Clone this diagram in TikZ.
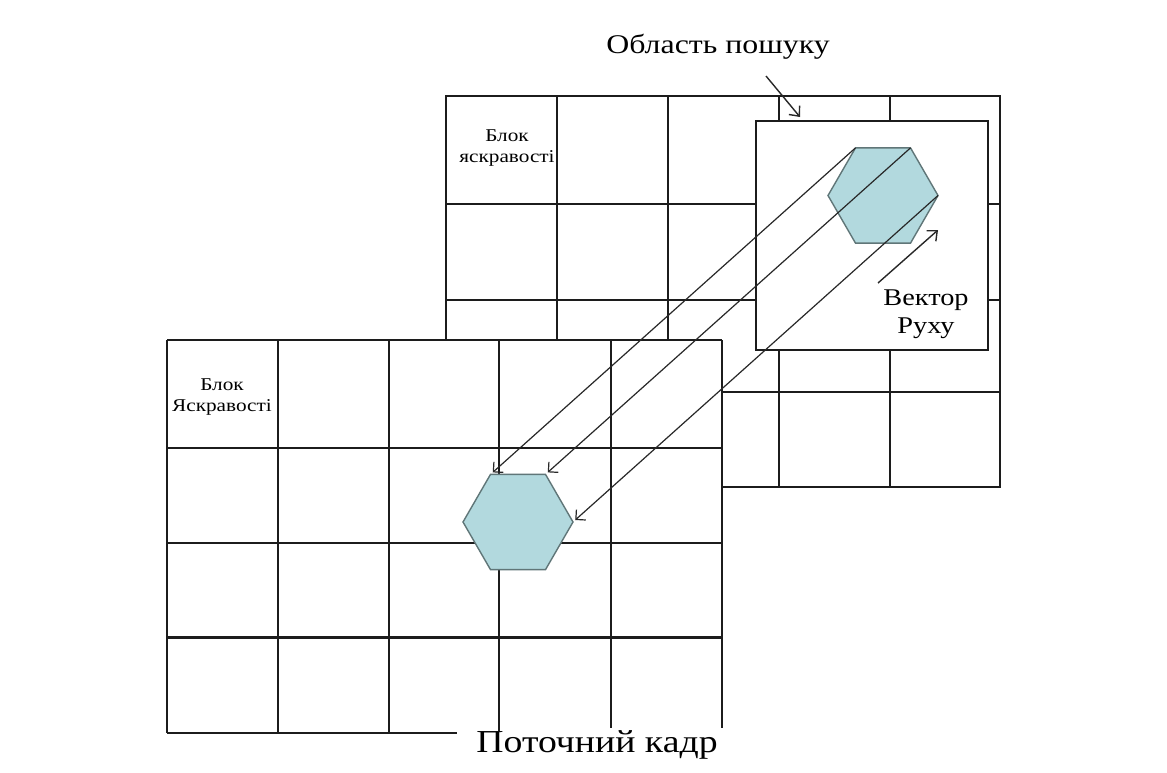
\documentclass[tikz,border=0pt]{standalone}
\usepackage{fontspec}
\setmainfont{Liberation Serif}[FakeStretch=1.18]
\usetikzlibrary{shapes.geometric,arrows.meta}

\definecolor{hexfill}{RGB}{178,217,222}
\definecolor{hexline}{RGB}{96,118,120}
\definecolor{gridline}{RGB}{28,28,28}
\definecolor{arrowline}{RGB}{40,40,40}

\tikzset{
  gridpen/.style={draw=gridline, line width=1.8pt},
  boldpen/.style={draw=gridline, line width=3pt},
  hexa/.style={regular polygon, regular polygon sides=6, minimum size=110pt,
    inner sep=0pt, outer sep=0pt, fill=hexfill, draw=hexline, line width=1.4pt},
  window/.style={draw=gridline, line width=1.8pt, fill=white, inner sep=0pt,
    outer sep=0pt, anchor=north west},
  motion/.style={draw=arrowline, line width=1.2pt,
    -{Straight Barb[length=7pt,width=14pt,line width=1.2pt]}, shorten >=3pt},
  pointer/.style={draw=arrowline, line width=1.4pt,
    -{Straight Barb[length=8pt,width=14pt,line width=1.4pt]}},
  smalllabel/.style={align=center, inner sep=0pt, font=\fontsize{18}{21}\selectfont},
}

\begin{document}
\begin{tikzpicture}[x=1pt, y=-1pt]
\useasboundingbox (0,0) rectangle (1167,772);

% reference frame grid (behind)
\draw[gridpen] (446,96) rectangle (1000,487);
\foreach \gx in {557,668,779,890} \draw[gridpen] (\gx,96) -- (\gx,487);
\foreach \gy in {204,300,392} \draw[gridpen] (446,\gy) -- (1000,\gy);
\node[smalllabel, anchor=base] (bl1) at (507,162) {Блок\\яскравості};

% search window
\node[window, minimum width=232pt, minimum height=229pt] (sw) at (756,121) {};

% current frame grid (in front)
\fill[white] (167,340) rectangle (722,733);
\draw[gridpen] (167,340) -- (722,340);
\draw[gridpen] (167,448) -- (722,448);
\draw[gridpen] (167,543) -- (722,543);
\draw[boldpen] (167,637) -- (722,637);
\draw[gridpen] (167,733) -- (457,733);
\draw[gridpen] (167,340) -- (167,733);
\draw[gridpen] (278,340) -- (278,733);
\draw[gridpen] (389,340) -- (389,733);
\draw[gridpen] (499,340) -- (499,731);
\draw[gridpen] (611,340) -- (611,728);
\draw[gridpen] (722,340) -- (722,728);
\node[smalllabel, anchor=base] (bl2) at (222,411) {Блок\\Яскравості};

% matched blocks (corner 1 = upper right, 2 = upper left, 6 = right)
\node[hexa] (hb) at (883,195.5) {};
\node[hexa] (hf) at (518,522) {};

% displacement of the block
\draw[motion] (hb.corner 2) -- (hf.corner 2);
\draw[motion] (hb.corner 1) -- (hf.corner 1);
\draw[motion] (hb.corner 6) -- (hf.corner 6);

% motion vector
\coordinate (mvs) at (878,283);
\coordinate (mve) at (938,230);
\draw[pointer] (mvs) -- (mve);
\node[align=center, inner sep=0pt, font=\fontsize{24}{28}\selectfont, anchor=base]
  (mvl) at (926,333) {Вектор\\Руху};

% search area caption
\node[inner sep=0pt, font=\fontsize{27}{32}\selectfont, anchor=base] (sal) at (718,53) {Область пошуку};
\coordinate (sas) at (766,76);
\coordinate (sae) at (800,117);
\draw[pointer] (sas) -- (sae);

% current frame caption
\node[inner sep=0pt, font=\fontsize{32}{38}\selectfont, anchor=base] (cfl) at (597,752) {Поточний кадр};
\end{tikzpicture}
\end{document}
